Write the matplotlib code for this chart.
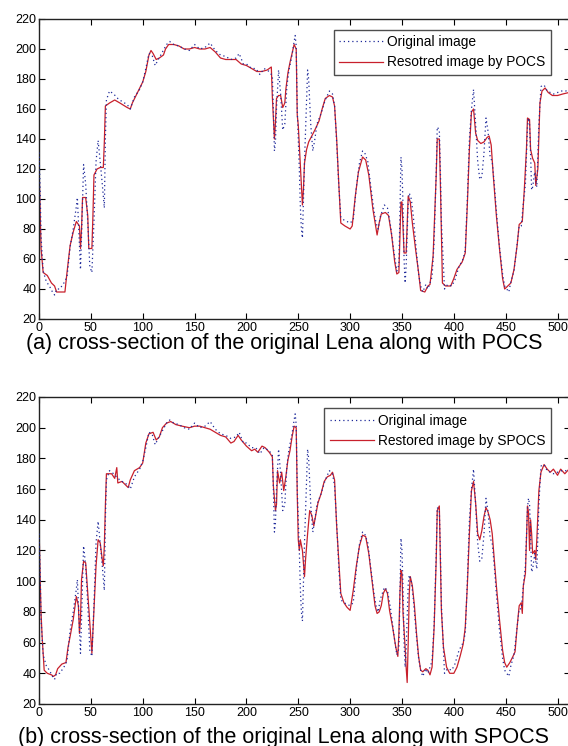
import matplotlib
matplotlib.use("Agg")
import matplotlib.pyplot as plt
from matplotlib.lines import Line2D

# cross-section of the original image (same row in both panels)
orig_x = [0, 1, 2, 4, 7, 10, 13, 15, 17, 20, 24, 27, 30, 33, 36, 37, 38, 40, 41, 43,
          45, 47, 49, 51, 53, 55, 57, 59, 61, 63, 64, 65, 68, 72, 76, 80, 85, 88, 92, 97,
          100, 103, 106, 109, 112, 115, 119, 123, 126, 130, 135, 140, 145, 150, 155, 160, 165, 170, 175, 180,
          185, 190, 193, 197, 200, 205, 209, 213, 217, 222, 225, 226, 227, 228, 229, 231, 233, 235, 237, 239,
          241, 244, 246, 247, 248, 249, 250, 251, 252, 253, 254, 255, 256, 258, 259, 260, 262, 264, 266, 268,
          272, 276, 280, 283, 285, 287, 289, 291, 294, 297, 300, 303, 306, 309, 312, 314, 317, 320, 323, 325,
          327, 329, 333, 336, 339, 342, 345, 347, 348, 349, 350, 351, 352, 353, 354, 356, 357, 359, 361, 364,
          366, 368, 370, 373, 375, 377, 379, 381, 383, 384, 386, 387, 388, 390, 391, 394, 398, 401, 405, 409,
          411, 413, 415, 417, 419, 421, 423, 425, 427, 429, 431, 433, 435, 437, 439, 441, 444, 447, 449, 451,
          453, 455, 458, 461, 463, 465, 467, 469, 471, 472, 473, 474, 475, 476, 478, 480, 482, 484, 487, 490,
          493, 496, 500, 504, 508, 511]
orig_y = [131, 110, 75, 52, 45, 42, 38, 36, 40, 40, 44, 48, 68, 80, 95, 101, 85, 53, 75, 123,
          110, 85, 55, 51, 85, 125, 139, 125, 110, 94, 140, 166, 172, 170, 167, 165, 163, 160, 168, 173,
          178, 187, 197, 196, 189, 193, 198, 203, 205, 203, 202, 200, 199, 203, 200, 201, 204, 199, 196, 195,
          193, 194, 197, 190, 190, 187, 187, 183, 187, 185, 182, 160, 132, 138, 160, 186, 170, 146, 150, 175,
          186, 196, 205, 209, 202, 160, 140, 120, 95, 80, 74, 100, 125, 165, 186, 180, 150, 132, 140, 150,
          157, 166, 172, 170, 162, 138, 110, 88, 86, 85, 84, 86, 108, 124, 132, 131, 125, 108, 92, 84,
          80, 88, 96, 94, 82, 66, 52, 56, 90, 128, 120, 95, 60, 44, 55, 98, 104, 100, 88, 64,
          50, 42, 38, 43, 40, 44, 48, 72, 118, 148, 146, 120, 85, 55, 40, 43, 42, 46, 55, 60,
          66, 100, 140, 160, 173, 150, 125, 113, 115, 130, 154, 145, 128, 125, 110, 92, 68, 50, 42, 40,
          38, 45, 52, 70, 82, 82, 97, 110, 148, 154, 150, 130, 106, 108, 118, 108, 150, 175, 176, 172,
          171, 170, 171, 172, 172, 173]

# restored by POCS (panel a)
pocs_x = [0, 2, 4, 8, 12, 15, 17, 22, 25, 27, 30, 33, 36, 39, 40, 41, 42, 45, 47, 48,
          51, 52, 53, 56, 59, 62, 63, 64, 68, 73, 78, 85, 88, 90, 95, 100, 103, 106, 108, 110,
          113, 116, 120, 122, 125, 130, 135, 140, 145, 150, 155, 160, 165, 170, 175, 180, 185, 190, 195, 200,
          205, 210, 215, 220, 224, 225, 227, 228, 229, 231, 233, 235, 237, 238, 240, 242, 245, 246, 248, 249,
          250, 252, 254, 255, 256, 258, 260, 263, 266, 270, 273, 276, 280, 283, 285, 287, 289, 291, 295, 300,
          302, 305, 308, 312, 315, 318, 322, 326, 328, 330, 334, 337, 340, 343, 345, 347, 349, 350, 352, 354,
          356, 358, 360, 363, 366, 368, 372, 375, 377, 380, 383, 384, 386, 387, 389, 392, 397, 400, 403, 408,
          411, 413, 415, 417, 419, 421, 423, 426, 429, 432, 434, 436, 438, 441, 444, 447, 449, 452, 455, 458,
          461, 463, 466, 468, 470, 471, 473, 474, 476, 478, 479, 481, 483, 485, 488, 491, 495, 500, 505, 511]
pocs_y = [123, 67, 51, 49, 44, 42, 38, 38, 38, 51, 69, 78, 85, 82, 67, 80, 101, 101, 89, 67,
          67, 89, 116, 120, 121, 121, 138, 162, 164, 166, 164, 161, 160, 164, 171, 178, 185, 196, 199, 197,
          193, 194, 196, 200, 203, 203, 202, 200, 200, 201, 200, 200, 201, 198, 194, 193, 193, 193, 190, 189,
          187, 185, 185, 186, 188, 168, 140, 151, 167, 169, 169, 161, 164, 173, 184, 191, 200, 203, 200, 156,
          149, 122, 96, 107, 124, 133, 138, 142, 146, 152, 160, 167, 169, 168, 162, 140, 111, 84, 82, 80,
          82, 102, 118, 128, 126, 116, 93, 76, 84, 90, 91, 89, 76, 58, 50, 51, 98, 98, 64, 64,
          102, 98, 84, 67, 51, 39, 38, 42, 43, 62, 116, 140, 140, 111, 44, 42, 42, 47, 53, 58,
          64, 96, 133, 158, 160, 144, 139, 137, 138, 141, 142, 136, 116, 89, 67, 47, 40, 42, 44, 53,
          69, 83, 85, 107, 133, 154, 153, 133, 127, 124, 109, 120, 164, 172, 174, 171, 169, 169, 170, 171]

# restored by SPOCS (panel b)
spocs_x = [0, 1, 2, 3, 5, 8, 12, 14, 16, 18, 22, 26, 28, 30, 33, 36, 38, 39, 40, 41,
           43, 45, 47, 49, 51, 53, 55, 57, 59, 61, 62, 63, 64, 65, 70, 73, 75, 76, 80, 83,
           86, 88, 92, 97, 100, 103, 106, 110, 113, 116, 119, 123, 127, 132, 138, 145, 150, 155, 160, 165,
           170, 175, 180, 185, 188, 192, 195, 200, 205, 208, 211, 215, 218, 222, 225, 226, 228, 229, 230, 232,
           234, 236, 238, 240, 242, 244, 246, 248, 249, 250, 251, 252, 254, 256, 257, 259, 261, 263, 265, 266,
           269, 272, 275, 278, 281, 283, 285, 287, 289, 291, 294, 297, 300, 303, 306, 309, 312, 315, 318, 321,
           324, 326, 328, 330, 332, 334, 336, 338, 341, 344, 346, 347, 348, 349, 350, 351, 353, 354, 355, 356,
           357, 358, 360, 362, 364, 366, 368, 370, 373, 375, 377, 379, 381, 383, 384, 386, 387, 388, 390, 393,
           396, 400, 403, 406, 409, 411, 413, 415, 417, 419, 421, 423, 425, 427, 429, 431, 433, 435, 437, 439,
           441, 444, 447, 449, 451, 454, 457, 459, 461, 463, 465, 466, 467, 469, 471, 472, 473, 474, 475, 476,
           478, 479, 480, 482, 484, 487, 490, 493, 496, 500, 503, 507, 511]
spocs_y = [137, 105, 79, 64, 42, 40, 39, 38, 39, 43, 46, 47, 57, 64, 75, 90, 84, 66, 75, 101,
           113, 112, 92, 71, 53, 81, 110, 127, 125, 114, 110, 123, 149, 170, 170, 167, 174, 164, 165, 163,
           161, 166, 172, 174, 177, 190, 196, 197, 192, 194, 200, 203, 204, 202, 201, 200, 201, 201, 200, 199,
           197, 195, 194, 190, 191, 195, 192, 188, 185, 186, 184, 188, 187, 184, 181, 162, 146, 150, 172, 164,
           171, 159, 168, 179, 185, 194, 201, 200, 157, 127, 120, 127, 120, 103, 114, 131, 146, 143, 136, 140,
           151, 157, 165, 168, 169, 171, 166, 136, 114, 92, 86, 83, 81, 94, 110, 123, 130, 129, 118, 101,
           84, 79, 80, 84, 92, 95, 92, 81, 70, 57, 51, 66, 92, 107, 105, 79, 57, 44, 34, 60,
           92, 103, 97, 84, 66, 51, 42, 41, 43, 42, 39, 44, 70, 114, 146, 149, 114, 81, 57, 44,
           40, 40, 44, 51, 59, 70, 97, 131, 159, 165, 151, 131, 127, 133, 142, 148, 145, 140, 131, 114,
           97, 75, 55, 47, 44, 47, 51, 54, 70, 84, 86, 79, 97, 105, 149, 145, 120, 140, 131, 118,
           120, 114, 127, 159, 171, 176, 173, 171, 173, 169, 173, 170, 173]

xticks = list(range(0, 501, 50))
yticks = list(range(20, 221, 20))

captions = ["(a) cross-section of the original Lena along with POCS",
            "(b) cross-section of the original Lena along with SPOCS"]
legend_labels = [["Original image", "Resotred image by POCS"],
                 ["Original image", "Restored image by SPOCS"]]

plt.rcParams['font.family'] = ['Liberation Sans', 'DejaVu Sans']

RED = '#c8202c'
BLUE = '#1f2a9a'

fig = plt.figure(figsize=(5.68, 7.46), dpi=100)
axes_pos = [[39 / 568, 1 - 319 / 746, 531 / 568, 300 / 746],
            [39 / 568, 1 - 704 / 746, 531 / 568, 307 / 746]]
caption_y = [1 - 343 / 746, 1 - 737 / 746]
restored = [(pocs_x, pocs_y), (spocs_x, spocs_y)]

for i in range(2):
    ax = fig.add_axes(axes_pos[i])
    rx, ry = restored[i]
    ax.plot(rx, ry, color=RED, lw=0.9, zorder=2)
    ax.plot(orig_x, orig_y, color=BLUE, lw=0.9, ls=(0, (1, 2.4)), zorder=3)
    ax.set_xlim(0, 512)
    ax.set_ylim(20, 220)
    ax.set_xticks(xticks)
    ax.set_yticks(yticks)
    ax.tick_params(direction='in', length=4, width=0.8, top=True, right=True,
                   labelsize=9, pad=2, colors='black')
    for sp in ax.spines.values():
        sp.set_linewidth(1.0)
        sp.set_color('#222222')

    handles = [Line2D([], [], color=BLUE, lw=0.9, ls=(0, (1, 2.4))),
               Line2D([], [], color=RED, lw=0.9)]
    leg = ax.legend(handles, legend_labels[i], loc='upper right',
                    bbox_to_anchor=(0.964, 0.964), borderaxespad=0,
                    fancybox=False, fontsize=9.9, handlelength=3.2,
                    handletextpad=0.3, labelspacing=0.45, borderpad=0.4)
    leg.get_frame().set_edgecolor('#222222')
    leg.get_frame().set_linewidth(1.0)

    fig.text(0.5, caption_y[i], captions[i], ha='center', va='center', fontsize=15.5)

fig.savefig('out.png', dpi=100)
